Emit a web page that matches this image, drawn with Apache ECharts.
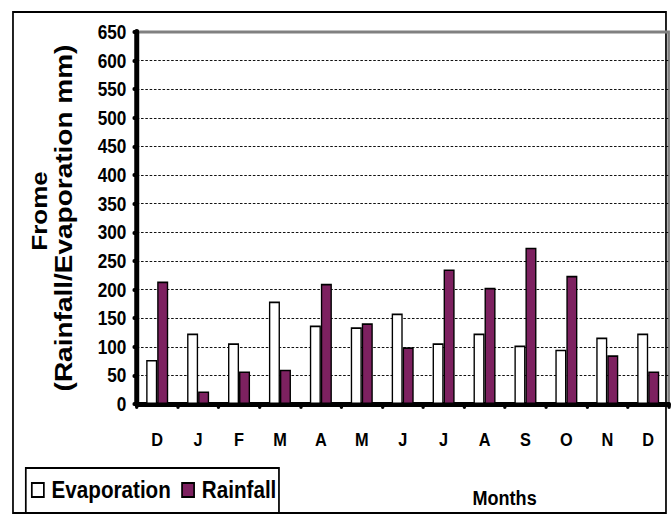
<!DOCTYPE html>
<html>
<head>
<meta charset="utf-8">
<script src="https://cdn.jsdelivr.net/npm/echarts@6/dist/echarts.min.js"></script>
<style>
  html, body { margin: 0; padding: 0; background: #fff; overflow: hidden; }
  /* the chart is laid out wide and compressed horizontally, giving the narrow lettering */
  #chart { width: 781.4px; height: 517px; transform: scaleX(0.86); transform-origin: 0 0; }
</style>
</head>
<body>
<div id="chart"></div>
<script>
// Monthly rainfall and evaporation at Frome (mm)
const months = ['D', 'J', 'F', 'M', 'A', 'M', 'J', 'J', 'A', 'S', 'O', 'N', 'D'];
const evaporation = [77, 123, 106, 179, 137, 134, 158, 106, 123, 102, 95, 116, 123];
const rainfall = [214, 22, 57, 60, 210, 141, 99, 235, 203, 273, 224, 85, 57];

const FONT = '"Liberation Sans", Arial, sans-serif';

const chart = echarts.init(document.getElementById('chart'), null, { renderer: 'svg' });

const dotTick = { show: true, length: 3, lineStyle: { color: '#000', width: 4, cap: 'round' } };

chart.setOption({
  animation: false,
  backgroundColor: '#fff',
  grid: {
    left: 159, right: 3.5, top: 32, bottom: 113,
    show: true, borderColor: '#808080', borderWidth: 3, backgroundColor: 'transparent'
  },
  legend: {
    left: 30, top: 468,
    orient: 'horizontal',
    icon: 'rect',
    itemWidth: 14, itemHeight: 14,
    itemGap: 12,
    padding: [10, 3, 11, 6],
    borderColor: '#000', borderWidth: 2,
    textStyle: { fontFamily: FONT, fontWeight: 'bold', fontSize: 24, color: '#000', padding: [0, 0, 0, 4] },
    data: ['Evaporation', 'Rainfall']
  },
  xAxis: {
    type: 'category',
    data: months,
    name: 'Months',
    nameLocation: 'middle',
    nameGap: 83,
    nameTextStyle: { fontFamily: FONT, fontWeight: 'bold', fontSize: 21, color: '#000', padding: [0, 0, 0, 237] },
    axisLine: { lineStyle: { color: '#000', width: 5 } },
    axisTick: Object.assign({ alignWithLabel: false }, dotTick),
    axisLabel: { margin: 26, fontFamily: FONT, fontWeight: 'bold', fontSize: 19, color: '#000' },
    splitLine: { show: false }
  },
  yAxis: {
    type: 'value',
    min: 0, max: 650, interval: 50,
    name: '{a|Frome}\n{b|(Rainfall/Evaporation mm)}',
    nameLocation: 'middle',
    nameRotate: 90,
    nameGap: 71,
    nameTextStyle: {
      color: '#000',
      rich: {
        a: { fontFamily: FONT, fontWeight: 'bold', fontSize: 26, lineHeight: 28, padding: [0, 0, 0, 14] },
        b: { fontFamily: FONT, fontWeight: 'bold', fontSize: 28, lineHeight: 28 }
      }
    },
    axisLine: { show: true, lineStyle: { color: '#000', width: 5.8 } },
    axisTick: dotTick,
    axisLabel: { margin: 12, fontFamily: FONT, fontWeight: 'bold', fontSize: 20, color: '#000' },
    splitLine: {
      show: true, showMinLine: false, showMaxLine: false,
      lineStyle: { color: '#000', width: 1, type: [3, 2] }
    }
  },
  series: [
    {
      name: 'Evaporation', type: 'bar', data: evaporation,
      barWidth: 12.8, barGap: '0%',
      itemStyle: { color: '#ffffff', borderColor: '#000', borderWidth: 1.6 }
    },
    {
      name: 'Rainfall', type: 'bar', data: rainfall,
      barWidth: 12.8,
      itemStyle: { color: '#7d2160', borderColor: '#000', borderWidth: 1.6 }
    }
  ],
  graphic: [
    {
      type: 'rect', z: -10, silent: true,
      shape: { x: 15.1, y: 12, width: 759.3, height: 501 },
      style: { fill: null, stroke: '#000', lineWidth: 2 }
    }
  ]
});
</script>
</body>
</html>
